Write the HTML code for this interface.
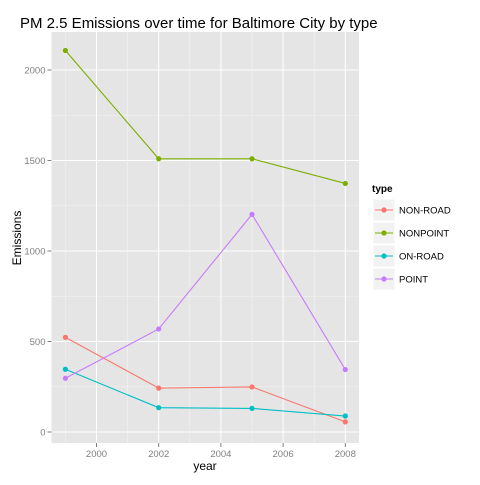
<!DOCTYPE html>
<html><head><style>
body{margin:0;background:#fff;}
svg{font-family:"Liberation Sans",Arial,sans-serif;}
</style></head><body>
<svg width="480" height="480">
<text x="20" y="28" font-size="15" fill="#000">PM 2.5 Emissions over time for Baltimore City by type</text>
<rect x="51.5" y="32" width="307.5" height="411" fill="#e5e5e5"/>
<g id="grid"></g>
<g id="axes"></g>
<g id="series"></g>
<text x="205" y="470" font-size="12" text-anchor="middle">year</text>
<text transform="translate(21,238) rotate(-90)" font-size="12" text-anchor="middle">Emissions</text>
<g id="legend"></g>
</svg>
<script>
const years=[1999,2002,2005,2008];
const seriesNames=["NON-ROAD","NONPOINT","ON-ROAD","POINT"];
const nonRoad=[522.94,242.41,248.93,55.82];
const nonPoint=[2107.6,1509.5,1509.5,1373.2];
const onRoad=[346.82,134.31,130.43,88.28];
const point=[296.8,569.26,1202.49,344.98];
const xTicks=[2000,2002,2004,2006,2008];
const yTicks=[0,500,1000,1500,2000];
const colors=["#f8766d","#7cae00","#00bfc4","#c77cff"];
const NS="http://www.w3.org/2000/svg";
const L=51.5,R=359,T=32,B=443;
const x=v=>96.5+(v-2000)*31.1;
const y=v=>432-v*0.181;
function mk(t,a,p){const e=document.createElementNS(NS,t);for(const k in a)e.setAttribute(k,a[k]);p.appendChild(e);return e;}
const grid=document.getElementById('grid'),axes=document.getElementById('axes');
yTicks.forEach((v,i)=>{
  if(i<yTicks.length-1){const m=mk('line',{x1:L,x2:R,y1:y(v+250),y2:y(v+250),stroke:'#f2f2f2','stroke-width':0.5},grid);}
  const g=mk('line',{x1:L,x2:R,y1:y(v),y2:y(v),stroke:'#fff','stroke-width':1},grid);
  
  mk('line',{x1:L-4,x2:L,y1:y(v),y2:y(v),stroke:'#7f7f7f'},axes);
  const t=mk('text',{x:L-6,y:y(v)+3.5,'font-size':9.5,'text-anchor':'end',fill:'#7f7f7f'},axes);t.textContent=v;
  
});
xTicks.forEach((v,i)=>{
  [v-1,v+1].forEach(m=>{if(x(m)>L&&x(m)<R)mk('line',{x1:x(m),x2:x(m),y1:T,y2:B,stroke:'#f2f2f2','stroke-width':0.5},grid);});
  const g=mk('line',{x1:x(v),x2:x(v),y1:T,y2:B,stroke:'#fff','stroke-width':1},grid);
  
  mk('line',{x1:x(v),x2:x(v),y1:B,y2:B+4,stroke:'#7f7f7f'},axes);
  const t=mk('text',{x:x(v),y:B+14,'font-size':9.5,'text-anchor':'middle',fill:'#7f7f7f'},axes);t.textContent=v;
  
});
const ser=document.getElementById('series');
[nonRoad,nonPoint,onRoad,point].forEach((d,i)=>{
  const p=mk('polyline',{points:d.map((v,j)=>x(years[j])+','+y(v)).join(' '),fill:'none',stroke:colors[i],'stroke-width':1.1},ser);
  
  d.forEach((v,j)=>{const c=mk('circle',{cx:x(years[j]),cy:y(v),r:2.6,fill:colors[i]},ser);
    });
});
const lg=document.getElementById('legend');
const lt=mk('text',{x:372,y:192,'font-size':10,'font-weight':'bold'},lg);lt.textContent='type';

seriesNames.forEach((n,i)=>{
  const cy=210+i*23;
  const k=mk('rect',{x:373,y:cy-11,width:22,height:22,fill:'#f2f2f2',stroke:'#fff'},lg);
  
  mk('line',{x1:375,x2:393,y1:cy,y2:cy,stroke:colors[i],'stroke-width':1.1},lg);
  mk('circle',{cx:384,cy:cy,r:2.6,fill:colors[i]},lg);
  const t=mk('text',{x:399,y:cy+3.5,'font-size':9.5},lg);t.textContent=n;
  
});
</script>
</body></html>
